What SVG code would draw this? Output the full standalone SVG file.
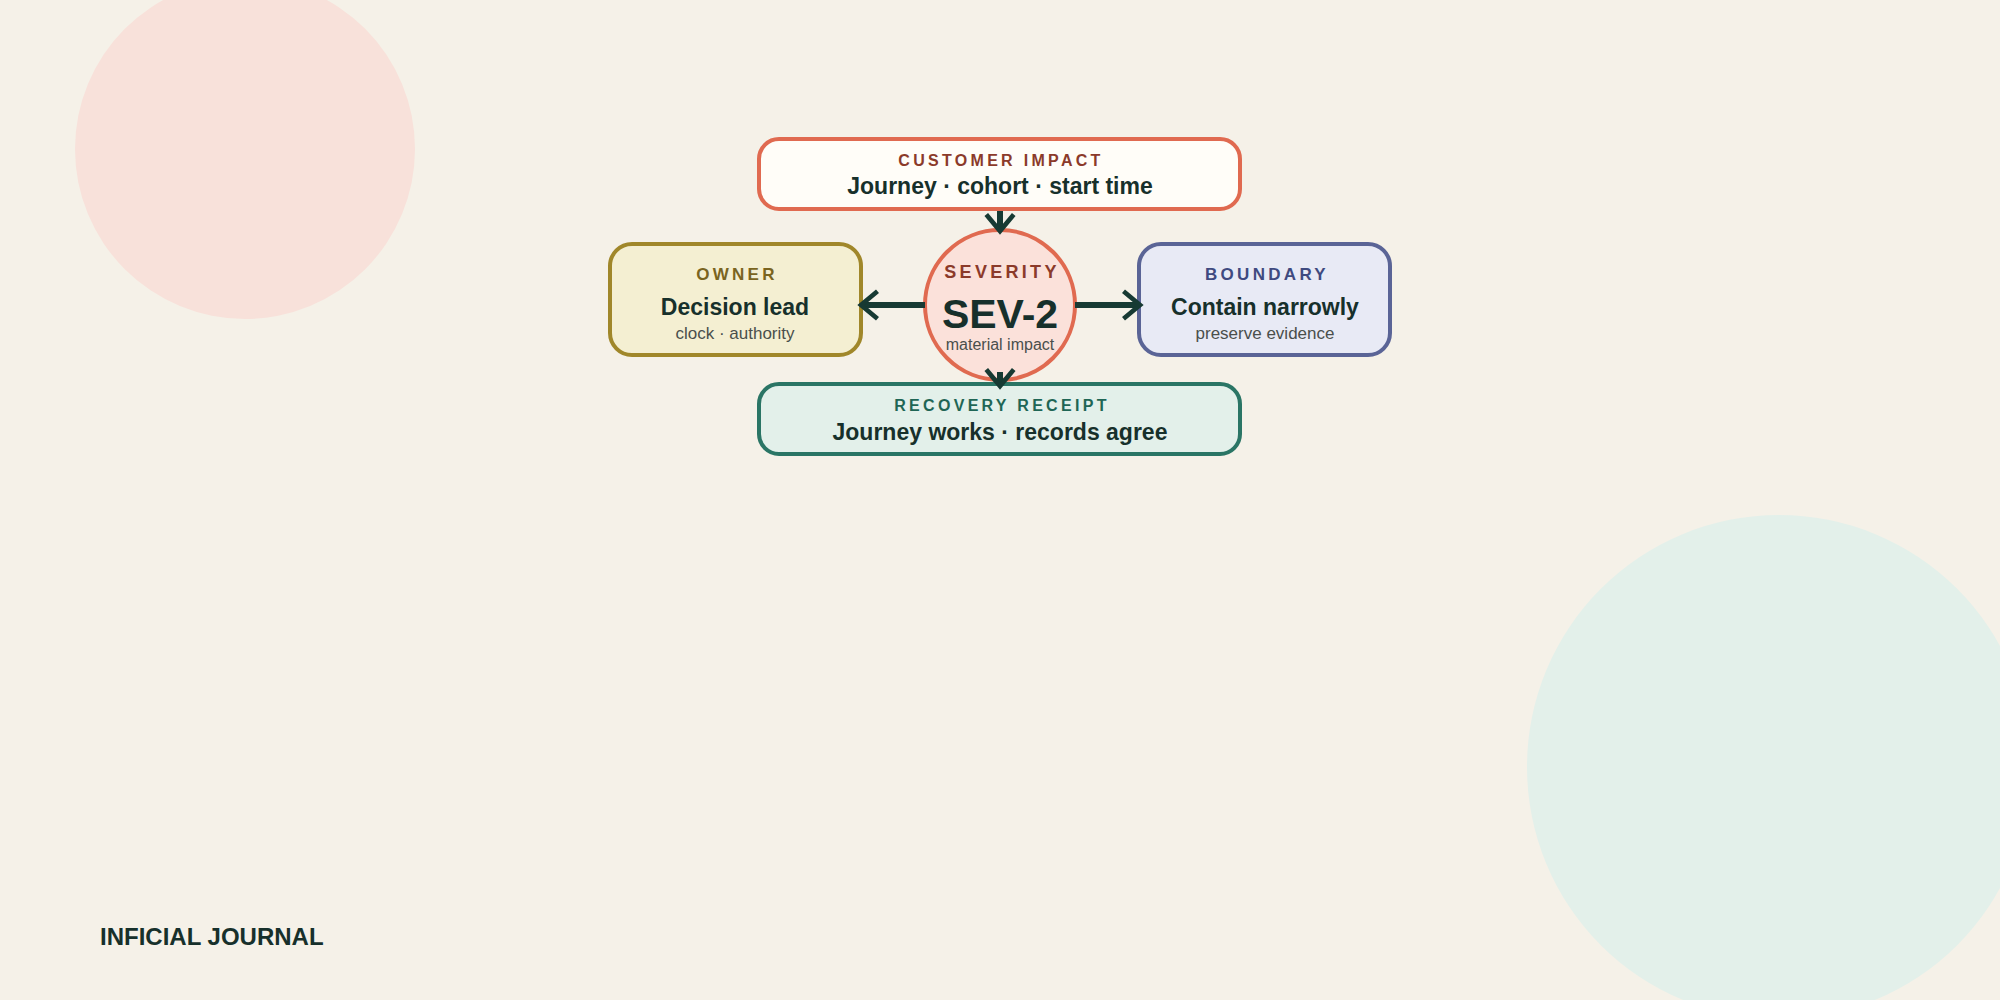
<svg xmlns="http://www.w3.org/2000/svg" width="2000" height="1000" viewBox="0 0 2000 1000">
<style>
text{font-family:"Liberation Sans",Arial,sans-serif;text-anchor:middle}
.lab{font-weight:700;font-size:16px;letter-spacing:3.3px}
.main{font-weight:700;font-size:23px;fill:#17302b}
.sub{font-size:17px;fill:#4a4f4c}
.ar{stroke:#173a33;stroke-width:6;fill:none}
</style>
<defs>
<marker id="h" viewBox="0 0 12 12" refX="9" refY="6" markerWidth="5.5" markerHeight="5.5" orient="auto" markerUnits="strokeWidth">
<path d="M3,1 L9,6 L3,11" fill="none" stroke="#173a33" stroke-width="1.7"/>
</marker>
</defs>
<rect width="2000" height="1000" fill="#f5f1e8"/>
<circle cx="245" cy="149" r="170" fill="#f8e1da"/>
<circle cx="1779" cy="767" r="252" fill="#e3f0ea"/>
<g id="customer">
<rect x="759" y="139" width="481" height="70" rx="20" fill="#fffdf8" stroke="#e06a50" stroke-width="4"/>
<text class="lab" x="1001" y="166" fill="#8b3a2a">CUSTOMER IMPACT</text>
<text class="main" x="1000" y="194">Journey · cohort · start time</text>
</g>
<g id="severity">
<circle cx="1000" cy="305" r="75" fill="#fbe1da" stroke="#e06a50" stroke-width="4"/>
<text class="lab" x="1002" y="278" fill="#8b3a2a" style="font-size:18px">SEVERITY</text>
<text x="1000" y="328" style="font-weight:700;font-size:41px;fill:#17302b">SEV-2</text>
<text class="sub" x="1000" y="350" style="font-size:16px">material impact</text>
</g>
<g id="owner">
<rect x="610" y="244" width="251" height="111" rx="22" fill="#f4efd2" stroke="#a0872a" stroke-width="4"/>
<text class="lab" x="737" y="280" fill="#7a6420" style="font-size:17px">OWNER</text>
<text class="main" x="735" y="315">Decision lead</text>
<text class="sub" x="735" y="339">clock · authority</text>
</g>
<g id="boundary">
<rect x="1139" y="244" width="251" height="111" rx="22" fill="#e8eaf5" stroke="#5a6496" stroke-width="4"/>
<text class="lab" x="1267" y="280" fill="#3f4a80" style="font-size:17px">BOUNDARY</text>
<text class="main" x="1265" y="315">Contain narrowly</text>
<text class="sub" x="1265" y="339">preserve evidence</text>
</g>
<g id="recovery">
<rect x="759" y="384" width="481" height="70" rx="20" fill="#e3f0ea" stroke="#2a7565" stroke-width="4"/>
<text class="lab" x="1002" y="411" fill="#1f6655">RECOVERY RECEIPT</text>
<text class="main" x="1000" y="440">Journey works · records agree</text>
</g>
<g id="connectors">
<line class="ar" x1="1000" y1="211" x2="1000" y2="231" marker-end="url(#h)"/>
<line class="ar" x1="925" y1="305" x2="861" y2="305" marker-end="url(#h)"/>
<line class="ar" x1="1075" y1="305" x2="1140" y2="305" marker-end="url(#h)"/>
<line class="ar" x1="1000" y1="372" x2="1000" y2="386" marker-end="url(#h)"/>
</g>
<text x="100" y="945" style="text-anchor:start;font-weight:700;font-size:24px;fill:#17302b">INFICIAL JOURNAL</text>
</svg>
